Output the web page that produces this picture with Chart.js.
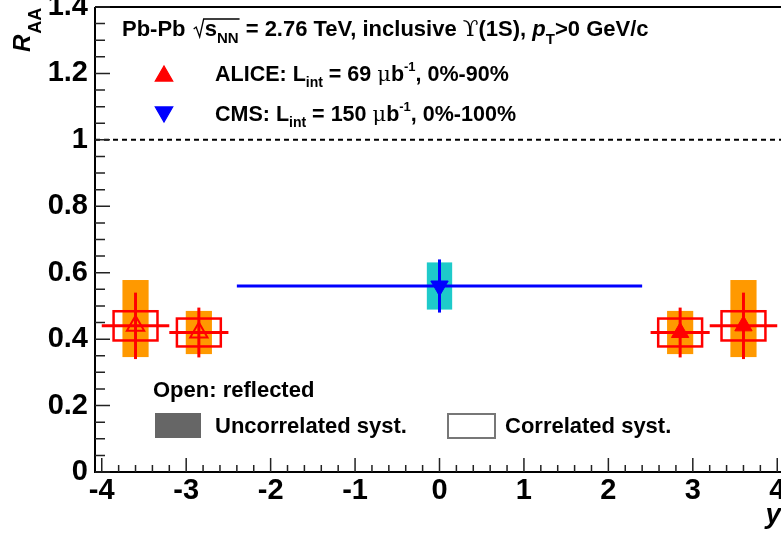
<!DOCTYPE html>
<html>
<head>
<meta charset="utf-8">
<script src="https://cdn.jsdelivr.net/npm/chart.js@4"></script>
<style>
  html, body { margin: 0; padding: 0; background: #fff; overflow: hidden; }
</style>
</head>
<body>
<canvas id="raaChart" width="790" height="535"></canvas>
<script>
// ALICE, forward rapidity (drawn again reflected at -y as open markers)
const aliceRap = [2.85, 3.6];
const aliceBinLo = [2.5, 3.2];
const aliceBinHi = [3.2, 4.0];
const aliceRaa = [0.42, 0.44];
const aliceStat = [0.075, 0.10];
const aliceUncorrHi = [0.065, 0.138];
const aliceUncorrLo = [0.065, 0.094];
const aliceCorr = [0.042, 0.044];

// CMS, |y| < 2.4
const cmsRap = [0];
const cmsBinLo = [-2.4];
const cmsBinHi = [2.4];
const cmsRaa = [0.56];
const cmsStat = [0.08];
const cmsSyst = [0.071];

const xTicks = [-4, -3, -2, -1, 0, 1, 2, 3, 4];
const yTicks = [0, 0.2, 0.4, 0.6, 0.8, 1, 1.2, 1.4];

const RED = '#ff0000';
const ORANGE = '#ff9900';
const BLUE = '#0000ff';
const CYAN = '#1ecaca';
const SANS = '"Liberation Sans", Arial, Helvetica, sans-serif';
const SERIF = '"DejaVu Serif", "Liberation Serif", serif';

function fB(px) { return 'bold ' + px + 'px ' + SANS; }

// draws a list of text pieces one after the other, returns x positions
function drawRich(c, x, y, parts) {
  const pos = [];
  parts.forEach(p => {
    c.font = p.font;
    c.fillStyle = '#000';
    c.textBaseline = 'alphabetic';
    c.textAlign = 'left';
    const w = c.measureText(p.text).width;
    pos.push({ x0: x, x1: x + w });
    c.fillText(p.text, x, y + (p.dy || 0));
    x += w + (p.gap || 0);
  });
  return pos;
}

function rectData(xs, ys, x0, x1, y0, y1) {
  const px0 = xs.getPixelForValue(x0), px1 = xs.getPixelForValue(x1);
  const py0 = ys.getPixelForValue(y0), py1 = ys.getPixelForValue(y1);
  return [px0, py1, px1 - px0, py0 - py1];
}

function lineData(c, xs, ys, x0, y0, x1, y1) {
  c.beginPath();
  c.moveTo(xs.getPixelForValue(x0), ys.getPixelForValue(y0));
  c.lineTo(xs.getPixelForValue(x1), ys.getPixelForValue(y1));
  c.stroke();
}

const decor = {
  id: 'decor',
  beforeDatasetsDraw(chart) {
    const c = chart.ctx;
    const xs = chart.scales.x, ys = chart.scales.y;
    const a = chart.chartArea;
    c.save();

    // dashed line at R_AA = 1
    c.strokeStyle = '#000';
    c.lineWidth = 2;
    c.setLineDash([5, 4]);
    c.beginPath();
    c.moveTo(a.left, ys.getPixelForValue(1));
    c.lineTo(a.right, ys.getPixelForValue(1));
    c.stroke();
    c.setLineDash([]);

    // ALICE boxes and error bars, both sides
    [1, -1].forEach(s => {
      aliceRap.forEach((yr, i) => {
        const xc = s * yr, v = aliceRaa[i];
        c.fillStyle = ORANGE;
        c.fillRect(...rectData(xs, ys, xc - 0.155, xc + 0.155, v - aliceUncorrLo[i], v + aliceUncorrHi[i]));
      });
      aliceRap.forEach((yr, i) => {
        const xc = s * yr, v = aliceRaa[i];
        c.strokeStyle = RED;
        c.lineWidth = 2.5;
        c.strokeRect(...rectData(xs, ys, xc - 0.26, xc + 0.26, v - aliceCorr[i], v + aliceCorr[i]));
        c.lineWidth = 3;
        lineData(c, xs, ys, s * aliceBinLo[i], v, s * aliceBinHi[i], v);
        lineData(c, xs, ys, xc, v - aliceStat[i], xc, v + aliceStat[i]);
      });
    });

    // CMS
    cmsRap.forEach((xc, i) => {
      const v = cmsRaa[i];
      c.fillStyle = CYAN;
      c.fillRect(...rectData(xs, ys, xc - 0.15, xc + 0.15, v - cmsSyst[i], v + cmsSyst[i]));
      c.strokeStyle = BLUE;
      c.lineWidth = 3;
      lineData(c, xs, ys, cmsBinLo[i], v, cmsBinHi[i], v);
      lineData(c, xs, ys, xc, v - cmsStat[i], xc, v + cmsStat[i]);
    });
    c.restore();
  },
  afterDraw(chart) {
    const c = chart.ctx;
    const xs = chart.scales.x, ys = chart.scales.y;
    const a = chart.chartArea;
    c.save();

    // frame
    c.strokeStyle = '#000';
    c.lineWidth = 2;
    c.beginPath();
    c.moveTo(a.left, a.top); c.lineTo(a.right, a.top);
    c.moveTo(a.left, a.top); c.lineTo(a.left, a.bottom);
    c.lineTo(a.right, a.bottom); c.lineTo(a.right, a.top);
    c.stroke();

    // ticks, drawn inwards
    c.lineWidth = 1.5;
    c.strokeStyle = '#222';
    c.beginPath();
    for (let i = 0; i <= 28; i++) {
      const py = ys.getPixelForValue(i * 0.05);
      c.moveTo(a.left, py);
      c.lineTo(a.left + (i % 4 === 0 ? 15 : 10), py);
    }
    for (let i = -20; i <= 20; i++) {
      const px = xs.getPixelForValue(i * 0.2);
      c.moveTo(px, a.bottom);
      c.lineTo(px, a.bottom - (i % 5 === 0 ? 14 : 7));
    }
    c.stroke();

    // axis titles
    c.fillStyle = '#000';
    c.font = 'bold italic 28px ' + SANS;
    c.textAlign = 'right';
    c.textBaseline = 'alphabetic';
    c.fillText('y', 781, 523);

    c.save();
    c.translate(30, 52);
    c.rotate(-Math.PI / 2);
    c.textAlign = 'left';
    c.font = 'bold italic 24px ' + SANS;
    c.fillText('R', 0, 0);
    const rw = c.measureText('R').width;
    c.font = 'bold 18px ' + SANS;
    c.fillText('AA', rw + 1, 11);
    c.restore();

    // header line
    const F = fB(22), FS = fB(15);
    const b0 = 36;
    let p = drawRich(c, 122, b0, [{ text: 'Pb-Pb ', font: F }]);
    const rootX = p[0].x1 + 2;
    c.strokeStyle = '#000';
    c.lineWidth = 1.3;
    p = drawRich(c, rootX + 11, b0, [
      { text: 's', font: F },
      { text: 'NN', font: FS, dy: 7 }
    ]);
    const rootEnd = p[1].x1 + 1;
    c.beginPath();
    c.moveTo(rootX, b0 - 7);
    c.lineTo(rootX + 2.5, b0 - 9);
    c.lineTo(rootX + 6, b0 + 1);
    c.lineTo(rootX + 10, b0 - 17);
    c.lineTo(rootEnd, b0 - 17);
    c.stroke();
    drawRich(c, rootEnd, b0, [
      { text: ' = 2.76 TeV, inclusive ', font: F },
      { text: '\u03D2', font: '23px ' + SERIF },
      { text: '(1S), ', font: F },
      { text: 'p', font: 'bold italic 22px ' + SANS },
      { text: 'T', font: FS, dy: 8 },
      { text: '>0 GeV/c', font: F }
    ]);

    // experiment legend
    const FL = fB(21.5), FLS = fB(14);
    c.fillStyle = RED;
    c.strokeStyle = RED;
    Chart.helpers.drawPoint(c, { pointStyle: 'triangle', radius: 10, rotation: 0, borderWidth: 1 }, 164, 76);
    drawRich(c, 215, 81, [
      { text: 'ALICE: L', font: FL },
      { text: 'int', font: FLS, dy: 6 },
      { text: ' = 69 ', font: FL },
      { text: '\u03BC', font: '21px ' + SERIF },
      { text: 'b', font: FL },
      { text: '-1', font: fB(13), dy: -10 },
      { text: ', 0%-90%', font: FL }
    ]);
    c.fillStyle = BLUE;
    c.strokeStyle = BLUE;
    Chart.helpers.drawPoint(c, { pointStyle: 'triangle', radius: 10, rotation: 180, borderWidth: 1 }, 164, 112);
    drawRich(c, 215, 121, [
      { text: 'CMS: L', font: FL },
      { text: 'int', font: FLS, dy: 6 },
      { text: ' = 150 ', font: FL },
      { text: '\u03BC', font: '21px ' + SERIF },
      { text: 'b', font: FL },
      { text: '-1', font: fB(13), dy: -10 },
      { text: ', 0%-100%', font: FL }
    ]);

    // systematics legend
    drawRich(c, 153, 397, [{ text: 'Open: reflected', font: F }]);
    c.fillStyle = '#666';
    c.fillRect(155, 413, 46, 25);
    drawRich(c, 215, 433, [{ text: 'Uncorrelated syst.', font: F }]);
    c.strokeStyle = '#777';
    c.lineWidth = 2;
    c.strokeRect(448, 414, 47, 24);
    drawRich(c, 505, 433, [{ text: 'Correlated syst.', font: F }]);

    c.restore();
  }
};

const tickFont = { family: SANS, size: 29, weight: 'bold' };

new Chart(document.getElementById('raaChart'), {
  type: 'scatter',
  data: {
    datasets: [
      {
        label: 'ALICE',
        data: aliceRap.map((x, i) => ({ x: x, y: aliceRaa[i] })),
        pointStyle: 'triangle',
        pointRadius: 10,
        backgroundColor: RED,
        borderColor: RED,
        borderWidth: 1
      },
      {
        label: 'ALICE reflected',
        data: aliceRap.map((x, i) => ({ x: -x, y: aliceRaa[i] })),
        pointStyle: 'triangle',
        pointRadius: 10,
        backgroundColor: 'rgba(0,0,0,0)',
        borderColor: RED,
        borderWidth: 2
      },
      {
        label: 'CMS',
        data: cmsRap.map((x, i) => ({ x: x, y: cmsRaa[i] })),
        pointStyle: 'triangle',
        rotation: 180,
        pointRadius: 10,
        backgroundColor: BLUE,
        borderColor: BLUE,
        borderWidth: 1
      }
    ]
  },
  options: {
    responsive: false,
    animation: false,
    devicePixelRatio: 1,
    layout: { autoPadding: false, padding: { top: 7, right: 6, left: 0, bottom: 0 } },
    plugins: { legend: { display: false }, tooltip: { enabled: false } },
    scales: {
      x: {
        type: 'linear',
        min: -4.08,
        max: 4.08,
        grid: { display: false, drawTicks: false },
        border: { display: false },
        afterBuildTicks: s => { s.ticks = xTicks.map(v => ({ value: v })); },
        afterFit: s => { s.height = 63; s.paddingLeft = 0; s.paddingRight = 0; },
        ticks: {
          font: tickFont,
          color: '#000',
          padding: 2,
          maxRotation: 0,
          autoSkip: false,
          callback: v => String(v)
        }
      },
      y: {
        type: 'linear',
        min: 0,
        max: 1.4,
        grid: { display: false, drawTicks: false },
        border: { display: false },
        afterBuildTicks: s => { s.ticks = yTicks.map(v => ({ value: v })); },
        afterFit: s => { s.width = 95; s.paddingTop = 0; s.paddingBottom = 0; },
        ticks: {
          font: tickFont,
          color: '#000',
          padding: 7,
          autoSkip: false,
          callback: v => String(Math.round(v * 10) / 10)
        }
      }
    }
  },
  plugins: [decor]
});
</script>
</body>
</html>
